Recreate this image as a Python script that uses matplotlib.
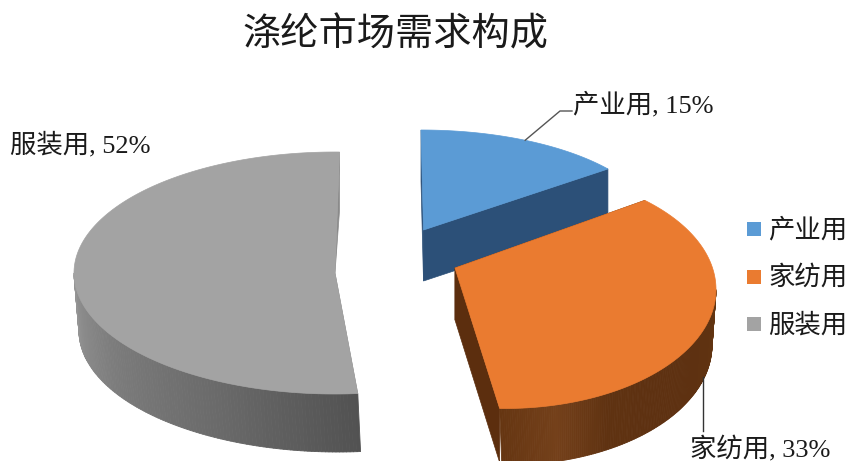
import numpy as np
import matplotlib
matplotlib.use("Agg")
import matplotlib.pyplot as plt
from matplotlib.collections import PolyCollection
from matplotlib.colors import to_rgb
from matplotlib.patches import Polygon, Rectangle

plt.rcParams['font.family'] = ['Liberation Serif', 'Noto Sans CJK SC']

title = "涤纶市场需求构成"
categories = ["产业用", "家纺用", "服装用"]
shares = [15, 33, 52]
top_colors = ["#5b9bd5", "#ea7b30", "#a3a3a3"]

# pie geometry in pixels, one entry per slice, the slices are exploded
# apex, top ellipse (cx, cy, a, b), bottom ellipse, start angle, angle stretch
layout = {
    "产业用": dict(apex=(423.5, 230), top=(421, 230, 236, 100), bot=(421, 281, 234, 100),
                start=0, stretch=0.97, depth=51, apex_drop=51,
                cut="#2c5078", wall=["#2c5078", "#2c5078"]),
    "家纺用": dict(apex=(455, 268), top=(505, 289.5, 211, 119), bot=(507, 345, 205, 120),
                start=41.5, stretch=1.178, depth=54, apex_drop=52,
                cut="#5c2e0e", wall=["#653712", "#5f3211", "#5e3111", "#5e3111", "#5f3211", "#74401a", "#663612"]),
    "服装用": dict(apex=(335, 273), top=(335, 273, 261, 121), bot=(338, 331, 259, 121),
                start=175, stretch=0.9936, depth=58, apex_drop=0,
                cut="#8a8a8a", wall=["#525252", "#6a6a6a", "#7c7c7c", "#959595"]),
}
draw_order = ["服装用", "产业用", "家纺用"]


def rim(t, ell):
    cx, cy, a, b = ell
    r = np.radians(t)
    return np.column_stack([cx + a * np.sin(r), cy - b * np.cos(r)])


def ramp(stops, n):
    stops = np.array([to_rgb(c) for c in stops])
    pos = np.linspace(0, 1, len(stops))
    u = np.linspace(0, 1, n)
    return np.column_stack([np.interp(u, pos, stops[:, i]) for i in range(3)])


def draw_slice(ax, share, color, g):
    t = np.linspace(g["start"], g["start"] + g["stretch"] * 3.6 * share, 240)
    top = rim(t, g["top"])
    bot = rim(t, g["bot"])
    apex = np.array(g["apex"])
    apex_low = apex + (0, g["apex_drop"])

    # the two cut faces go first, the top covers whatever is hidden
    for i in (-1, 0):
        face = [apex, top[i], top[i] + (0, g["depth"]), apex_low]
        ax.add_patch(Polygon(face, closed=True, fc=g["cut"], ec=g["cut"], lw=0.5))

    # outer wall, only the part facing the viewer
    front = np.nonzero(np.cos(np.radians(t)) < 0)[0]
    if len(front) > 1:
        quads = [[top[i], top[i + 1], bot[i + 1], bot[i]] for i in front[:-1]]
        cols = ramp(g["wall"], len(quads))
        ax.add_collection(PolyCollection(quads, facecolors=cols, edgecolors=cols, linewidths=0.6))

    outline = np.vstack([apex, top])
    ax.add_patch(Polygon(outline, closed=True, fc=color, ec=color, lw=0.5))


fig = plt.figure(figsize=(8.46, 4.61), dpi=100)
ax = fig.add_axes([0, 0, 1, 1])
ax.set_xlim(0, 846)
ax.set_ylim(461, 0)
ax.axis("off")

for name in draw_order:
    i = categories.index(name)
    draw_slice(ax, shares[i], top_colors[i], layout[name])

ax.text(395, 35, title, fontsize=27.5, ha="center", va="center", color="#1a1a1a")

# leader lines and data labels
blue = layout["产业用"]
anchor = rim(np.array([blue["start"] + blue["stretch"] * 3.6 * shares[0] / 2]), blue["top"])[0]
ax.plot([anchor[0], 560, 572], [anchor[1], 111, 111], color="#555555", lw=1)
ax.plot([703, 703], [377, 431], color="#333333", lw=1)

label_pos = [(573, 105), (690, 449), (10, 145)]
for (x, y), name, val in zip(label_pos, categories, shares):
    ax.text(x, y, f"{name}, {val}%", fontsize=19, ha="left", va="center", color="#1a1a1a")

# legend
for i, (name, color) in enumerate(zip(categories, top_colors)):
    y = 229 + 47.5 * i
    ax.add_patch(Rectangle((747, y - 7), 14, 14, fc=color, ec="none"))
    ax.text(768, y + 1, name, fontsize=19, ha="left", va="center", color="#1a1a1a")

fig.savefig("out.png", dpi=100)
